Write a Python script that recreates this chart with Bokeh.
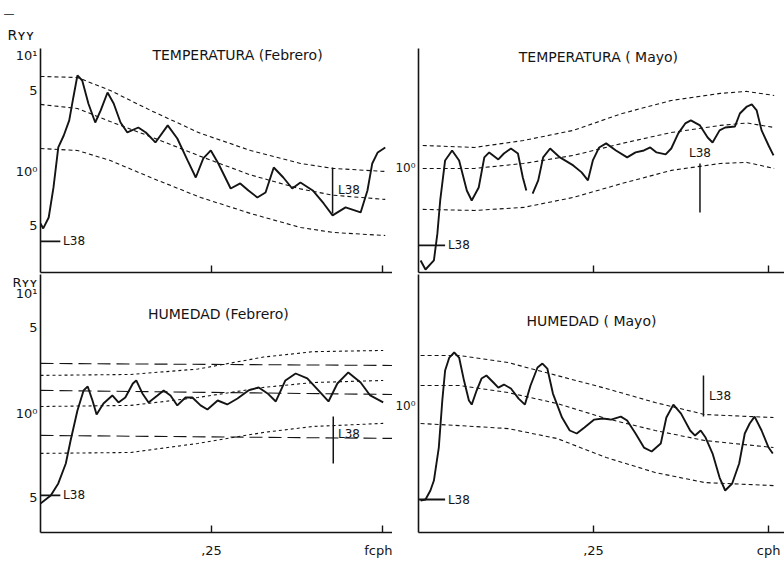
from bokeh.plotting import figure
from bokeh.layouts import column, row
from bokeh.models import Label, FixedTicker, Range1d, Title
from bokeh.embed import file_html
from bokeh.resources import INLINE

# ---------------- data (x: frequency in cph, y: log10 of R_YY) ----------------
# TEMPERATURA (Febrero)
tf_x = [0.000, 0.004, 0.012, 0.019, 0.026, 0.034, 0.042, 0.048, 0.054, 0.061, 0.070, 0.080, 0.088, 0.098, 0.107,
        0.117, 0.127, 0.143, 0.154, 0.168, 0.186, 0.200, 0.215, 0.227, 0.238, 0.249, 0.260, 0.278, 0.292, 0.304,
        0.317, 0.329, 0.341, 0.355, 0.368, 0.380, 0.398, 0.414, 0.427, 0.446, 0.468, 0.478, 0.485, 0.493, 0.504]
tf_y = [-0.448, -0.491, -0.397, -0.138, 0.207, 0.310, 0.440, 0.638, 0.828, 0.784, 0.586, 0.422, 0.526, 0.681, 0.586,
        0.422, 0.336, 0.379, 0.336, 0.250, 0.397, 0.284, 0.095, -0.052, 0.112, 0.181, 0.069, -0.147, -0.103, -0.164,
        -0.224, -0.181, 0.034, -0.052, -0.147, -0.095, -0.164, -0.276, -0.379, -0.310, -0.353, -0.164, 0.069, 0.164, 0.207]
tf_band_x = [0.000, 0.054, 0.102, 0.161, 0.234, 0.307, 0.380, 0.428, 0.504]
tf_up = [0.819, 0.810, 0.698, 0.526, 0.328, 0.181, 0.069, 0.026, 0.000]
tf_mid = [0.578, 0.543, 0.430, 0.300, 0.130, -0.030, -0.150, -0.205, -0.241]
tf_lo = [0.198, 0.181, 0.095, -0.052, -0.224, -0.362, -0.483, -0.526, -0.552]

# TEMPERATURA (Mayo) - two traced pieces
tm_x1 = [0.003, 0.010, 0.022, 0.027, 0.031, 0.038, 0.048, 0.058, 0.069, 0.076, 0.086, 0.094, 0.101, 0.114, 0.122,
         0.132, 0.142, 0.149, 0.154]
tm_y1 = [-0.793, -0.871, -0.793, -0.560, -0.276, 0.069, 0.155, 0.069, -0.190, -0.276, -0.164, 0.095, 0.138, 0.078,
         0.129, 0.172, 0.129, -0.078, -0.190]
tm_x2 = [0.163, 0.171, 0.178, 0.188, 0.202, 0.221, 0.233, 0.242, 0.249, 0.258, 0.268, 0.282, 0.298, 0.310, 0.322,
         0.331, 0.340, 0.353, 0.361, 0.371, 0.381, 0.389, 0.402, 0.413, 0.420, 0.430, 0.438, 0.452, 0.459, 0.469,
         0.476, 0.483, 0.490, 0.500, 0.507]
tm_y2 = [-0.216, -0.103, 0.095, 0.172, 0.095, 0.026, -0.034, -0.103, 0.069, 0.181, 0.216, 0.155, 0.095, 0.138, 0.155,
         0.181, 0.138, 0.121, 0.172, 0.302, 0.388, 0.414, 0.371, 0.267, 0.224, 0.328, 0.353, 0.362, 0.474, 0.534,
         0.552, 0.500, 0.328, 0.198, 0.112]
tm_band_x = [0.006, 0.080, 0.150, 0.221, 0.291, 0.361, 0.431, 0.469, 0.508]
tm_up = [0.198, 0.181, 0.241, 0.328, 0.474, 0.586, 0.647, 0.664, 0.629]
tm_mid = [0.000, 0.000, 0.043, 0.112, 0.216, 0.310, 0.371, 0.392, 0.353]
tm_lo = [-0.353, -0.362, -0.336, -0.250, -0.129, -0.017, 0.043, 0.052, 0.000]

# HUMEDAD (Febrero)
hf_x = [0.000, 0.015, 0.026, 0.037, 0.044, 0.054, 0.063, 0.069, 0.076, 0.082, 0.092, 0.105, 0.114, 0.124, 0.135,
        0.140, 0.149, 0.158, 0.171, 0.180, 0.190, 0.200, 0.212, 0.222, 0.234, 0.244, 0.259, 0.273, 0.288, 0.304,
        0.319, 0.332, 0.344, 0.358, 0.373, 0.390, 0.409, 0.421, 0.434, 0.450, 0.468, 0.482, 0.501]
hf_y = [-0.750, -0.683, -0.583, -0.417, -0.225, 0.025, 0.192, 0.225, 0.108, -0.008, 0.083, 0.150, 0.092, 0.133, 0.250,
        0.275, 0.167, 0.092, 0.150, 0.192, 0.150, 0.067, 0.133, 0.133, 0.067, 0.033, 0.108, 0.075, 0.125, 0.192,
        0.217, 0.167, 0.100, 0.275, 0.333, 0.292, 0.175, 0.100, 0.250, 0.342, 0.258, 0.150, 0.092]
hf_band_x = [0.000, 0.132, 0.230, 0.326, 0.399, 0.501]
hf_up = [0.317, 0.325, 0.370, 0.470, 0.515, 0.525]
hf_mid = [0.058, 0.067, 0.133, 0.217, 0.258, 0.275]
hf_lo = [-0.333, -0.325, -0.250, -0.158, -0.108, -0.083]
hf_ref_x = [0.000, 0.515]
hf_ref1 = [0.417, 0.400]
hf_ref2 = [0.192, 0.158]
hf_ref3 = [-0.183, -0.208]

# HUMEDAD (Mayo)
hm_x = [0.003, 0.010, 0.017, 0.022, 0.029, 0.034, 0.038, 0.044, 0.051, 0.058, 0.065, 0.072, 0.076, 0.083, 0.090,
        0.097, 0.107, 0.114, 0.122, 0.132, 0.143, 0.152, 0.160, 0.170, 0.177, 0.184, 0.192, 0.205, 0.216, 0.226,
        0.237, 0.251, 0.263, 0.275, 0.289, 0.298, 0.310, 0.322, 0.333, 0.346, 0.354, 0.364, 0.375, 0.388, 0.395,
        0.403, 0.410, 0.420, 0.430, 0.438, 0.448, 0.458, 0.466, 0.473, 0.480, 0.490, 0.500, 0.506]
hm_y = [-0.792, -0.783, -0.708, -0.625, -0.350, 0.042, 0.292, 0.400, 0.442, 0.400, 0.208, 0.042, 0.008, 0.125, 0.225,
        0.250, 0.192, 0.150, 0.175, 0.142, 0.058, 0.008, 0.167, 0.317, 0.350, 0.308, 0.100, -0.100, -0.208, -0.233,
        -0.183, -0.117, -0.108, -0.117, -0.092, -0.125, -0.233, -0.350, -0.383, -0.317, -0.100, 0.008, -0.067, -0.208,
        -0.250, -0.208, -0.267, -0.400, -0.600, -0.708, -0.650, -0.483, -0.233, -0.150, -0.092, -0.208, -0.350, -0.400]
hm_band_x = [0.003, 0.058, 0.128, 0.198, 0.268, 0.338, 0.409, 0.507]
hm_up = [0.417, 0.417, 0.358, 0.250, 0.142, 0.025, -0.075, -0.100]
hm_mid = [0.167, 0.167, 0.108, 0.017, -0.108, -0.208, -0.292, -0.350]
hm_lo = [-0.150, -0.167, -0.192, -0.275, -0.433, -0.558, -0.642, -0.667]

# L38 bandwidth markers: [x, y_top, y_bottom] and left marker level
tf_l38 = [0.427, 0.034, -0.362]
tm_l38 = [0.402, 0.043, -0.379]
hf_l38 = [0.428, -0.025, -0.417]
hm_l38 = [0.407, 0.250, -0.092]
tf_l38_left = -0.603
tm_l38_left = -0.664
hf_l38_left = -0.683
hm_l38_left = -0.783
l38_left_len = [0.029, 0.038, 0.029, 0.038]

# ticks
x_ticks = [0.25, 0.5]
tf_yticks = [1.0, 0.699, 0.0, -0.466]
hf_yticks = [1.10, 1.0, 0.717, 0.0, -0.70]
left_ylabels = ["10¹", "5", "10⁰", "5"]
hf_ylabels = ["Rʏʏ", "10¹", "5", "10⁰", "5"]
right_yticks = [0.0]
right_ylabels = ["10⁰"]
titles = ["TEMPERATURA (Febrero)", "TEMPERATURA ( Mayo)", "HUMEDAD (Febrero)", "HUMEDAD ( Mayo)"]

INK = "#141414"
FONT = "DejaVu Sans"


def make_panel(w, h, bl, bt, bb, xr, yr, yticks, ylabels, xlabels, yfs="13px"):
    p = figure(width=w, height=h, x_range=Range1d(*xr), y_range=Range1d(*yr),
               output_backend="svg", toolbar_location=None,
               min_border_left=bl, min_border_right=0, min_border_top=bt, min_border_bottom=bb)
    p.grid.visible = False
    p.outline_line_color = None
    p.background_fill_color = "white"
    p.border_fill_color = "white"
    ya = p.yaxis[0]
    ya.ticker = FixedTicker(ticks=yticks)
    ya.major_label_overrides = {t: s for t, s in zip(yticks, ylabels)}
    ya.major_tick_in = 0
    ya.major_tick_out = 0
    ya.minor_tick_in = 0
    ya.minor_tick_out = 0
    ya.major_label_standoff = 3
    ya.major_label_text_font = FONT
    ya.major_label_text_font_size = yfs
    ya.major_label_text_color = INK
    ya.axis_line_color = INK
    ya.axis_line_width = 1.6
    xa = p.xaxis[0]
    xa.ticker = FixedTicker(ticks=x_ticks)
    xa.major_tick_in = 7
    xa.major_tick_out = 0
    xa.minor_tick_in = 0
    xa.minor_tick_out = 0
    xa.major_tick_line_color = INK
    xa.major_tick_line_width = 1.4
    xa.axis_line_color = INK
    xa.axis_line_width = 1.6
    if xlabels is None:
        xa.major_label_overrides = {t: "" for t in x_ticks}
        xa.major_label_text_font_size = "0px"
        xa.major_label_standoff = 0
    else:
        xa.major_label_overrides = {t: s for t, s in zip(x_ticks, xlabels)}
        xa.major_label_text_font_size = "13px"
        xa.major_label_text_font = FONT
        xa.major_label_text_color = INK
        xa.major_label_standoff = 10
    return p


def text(p, x, y, s, size="12px", align="left", baseline="middle"):
    p.add_layout(Label(x=x, y=y, text=s, text_font=FONT, text_font_size=size, text_color=INK,
                       text_align=align, text_baseline=baseline))


def bands(p, bx, curves, dash="4 3"):
    for c in curves:
        p.line(bx, c, line_color=INK, line_width=1.1, line_dash=dash)


def l38(p, spec, left_y, left_len, label_pos):
    p.segment(x0=[spec[0]], y0=[spec[1]], x1=[spec[0]], y1=[spec[2]], line_color=INK, line_width=1.5)
    p.segment(x0=[0.0], y0=[left_y], x1=[left_len], y1=[left_y], line_color=INK, line_width=1.8)
    text(p, left_len + 0.004, left_y, "L38")
    text(p, label_pos[0], label_pos[1], "L38", align=label_pos[2], baseline=label_pos[3])


# ---------- TEMPERATURA (Febrero) ----------
p1 = make_panel(392, 274, 40, 48, 2, (0.0, 0.5146), (-0.871, 1.060), tf_yticks, left_ylabels, None)
# overbar (outer) and the R_YY symbol (next to the frame)
p1.title.text = "—"
p1.title.align = "left"
p1.title.offset = -37
p1.title.standoff = 0
p1.title.text_font = FONT
p1.title.text_font_size = "11px"
p1.title.text_font_style = "normal"
p1.title.text_color = INK
p1.add_layout(Title(text="Rʏʏ", align="left", offset=-33, standoff=11, text_font=FONT,
                    text_font_size="14px", text_font_style="normal", text_color=INK), "above")
bands(p1, tf_band_x, [tf_up, tf_mid, tf_lo])
p1.line(tf_x, tf_y, line_color=INK, line_width=1.9)
l38(p1, tf_l38, tf_l38_left, l38_left_len[0], (tf_l38[0] + 0.008, (tf_l38[1] + tf_l38[2]) / 2, "left", "middle"))
text(p1, 0.288, 1.0, titles[0], size="14px", align="center")

# ---------- TEMPERATURA (Mayo) ----------
RX = 368 / 704
p2 = make_panel(392, 274, 24, 48, 2, (0.0, RX), (-0.897, 1.034), right_yticks, right_ylabels, None, yfs="12px")
bands(p2, tm_band_x, [tm_up, tm_mid, tm_lo])
p2.line(tm_x1, tm_y1, line_color=INK, line_width=1.9)
p2.line(tm_x2, tm_y2, line_color=INK, line_width=1.9)
l38(p2, tm_l38, tm_l38_left, l38_left_len[1], (tm_l38[0], tm_l38[1] + 0.03, "center", "bottom"))
text(p2, 0.257, 0.957, titles[1], size="14px", align="center")

# ---------- HUMEDAD (Febrero) ----------
p3 = make_panel(392, 294, 40, 0, 36, (0.0, 0.5146), (-0.992, 1.158), hf_yticks, hf_ylabels, [",25", "fcph"])
for lvl in (hf_ref1, hf_ref2, hf_ref3):
    p3.line(hf_ref_x, lvl, line_color=INK, line_width=1.1, line_dash="13 6")
bands(p3, hf_band_x, [hf_up, hf_mid, hf_lo], dash="3 3")
p3.line(hf_x, hf_y, line_color=INK, line_width=1.9)
l38(p3, hf_l38, hf_l38_left, l38_left_len[2], (hf_l38[0] + 0.007, -0.167, "left", "middle"))
text(p3, 0.260, 0.833, titles[2], size="14px", align="center")

# ---------- HUMEDAD (Mayo) ----------
p4 = make_panel(392, 294, 24, 0, 36, (0.0, RX), (-1.058, 1.092), right_yticks, right_ylabels, [",25", "cph"], yfs="12px")
bands(p4, hm_band_x, [hm_up, hm_mid, hm_lo])
p4.line(hm_x, hm_y, line_color=INK, line_width=1.9)
l38(p4, hm_l38, hm_l38_left, l38_left_len[3], (hm_l38[0] + 0.008, (hm_l38[1] + hm_l38[2]) / 2, "left", "middle"))
text(p4, 0.247, 0.708, titles[3], size="14px", align="center")

layout = column(row(p1, p2, spacing=0), row(p3, p4, spacing=0), spacing=0)
open("out.html", "w").write(file_html(layout, INLINE))
